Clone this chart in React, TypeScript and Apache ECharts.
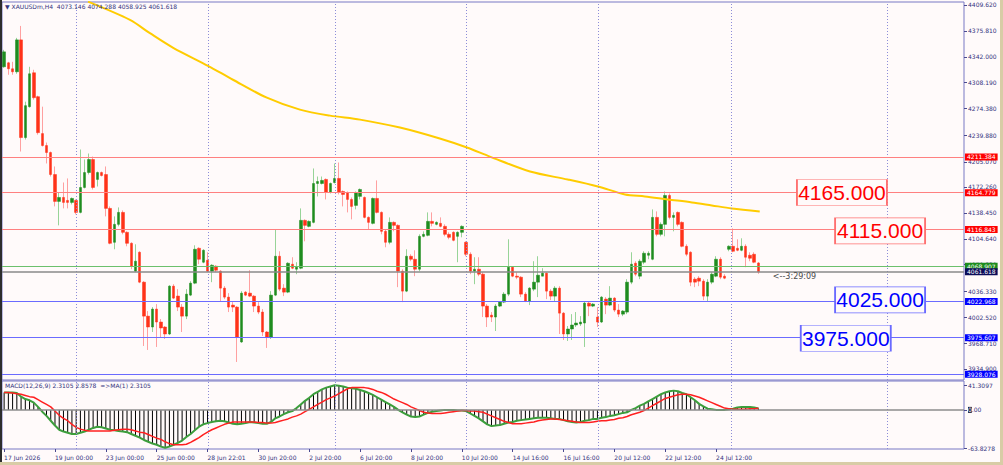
import React, { useEffect, useRef } from "react";
import * as echarts from "echarts";

// ---------- data ----------
const opens = [4329.0,4334.2,4326.4,4322.5,4364.1,4236.7,4277.0,4321.2,4290.0,4241.9,
4226.3,4217.2,4188.5,4153.4,4158.6,4154.7,4152.1,4154.7,4139.1,4171.6,
4191.1,4208.1,4182.1,4191.1,4188.5,4144.3,4100.1,4123.5,4139.1,4113.1,
4098.8,4062.4,4087.1,4048.1,4003.8,3989.6,4013.0,3996.1,3989.6,3980.5,
4042.9,4030.0,4015.6,4003.8,4031.2,4046.8,4092.3,4074.1,4076.7,4062.4,
4068.9,4062.4,4040.3,4028.6,4018.2,4015.6,3970.1,4035.1,4033.8,4029.9,
4016.9,4009.1,3983.1,3976.6,4031.2,4081.9,4040.3,4035.1,4071.5,4065.0,
4066.3,4128.7,4120.9,4126.1,4176.8,4176.8,4182.1,4165.1,4178.1,4183.4,
4166.4,4165.1,4156.0,4148.2,4160.0,4158.6,4132.6,4124.8,4157.3,4139.1,
4114.4,4100.1,4126.1,4122.2,4062.4,4036.4,4081.9,4078.0,4065.0,4107.9,
4109.2,4127.4,4123.5,4124.8,4120.9,4110.5,4113.1,4107.9,4113.1,4100.1,
4084.5,4062.4,4065.0,4058.5,4016.9,4005.1,4002.6,4016.9,4022.1,4032.5,
4067.6,4055.9,4054.6,4032.5,4023.4,4039.0,4048.1,4055.9,4059.8,4036.4,
4029.9,4040.3,4007.7,3980.5,3987.0,3992.2,3993.5,3994.8,4020.8,4016.9,
4002.6,3996.1,4026.0,4018.2,4027.3,4011.7,4006.4,4009.1,4048.1,4072.8,
4055.9,4074.1,4083.2,4078.0,4132.6,4110.5,4123.5,4161.2,4132.6,4139.1,
4126.1,4094.9,4087.1,4052.0,4053.3,4049.4,4029.9,4048.1,4055.9,4078.0,
4055.9,4091.0,4094.9,4092.3,4089.7,4094.9,4083.2,4084.5,4073.146];

const highs = [4351.1,4335.5,4335.5,4366.7,4382.3,4283.5,4329.0,4325.1,4291.3,4277.0,
4230.2,4218.5,4199.0,4165.1,4178.1,4183.4,4158.6,4156.0,4221.1,4208.1,
4215.9,4211.9,4192.4,4192.4,4199.0,4146.9,4133.9,4145.6,4141.7,4114.4,
4100.1,4097.5,4088.4,4049.4,4010.4,4015.6,4019.5,4000.0,3990.9,4044.2,
4045.5,4039.0,4019.5,4039.0,4049.4,4096.2,4093.6,4091.0,4087.1,4071.5,
4070.2,4063.7,4042.9,4033.8,4022.1,4016.9,4036.4,4036.4,4063.7,4031.2,
4022.1,4013.0,3984.4,4036.4,4117.0,4088.4,4045.5,4074.1,4080.6,4074.1,
4144.3,4130.0,4128.7,4196.4,4185.9,4185.9,4183.4,4178.1,4202.9,4204.2,
4167.7,4166.4,4158.6,4166.4,4170.3,4159.9,4133.9,4158.6,4180.8,4140.4,
4117.0,4132.6,4127.4,4123.5,4065.0,4091.0,4084.5,4089.7,4110.5,4114.4,
4139.1,4139.1,4127.4,4132.6,4123.5,4113.1,4114.4,4114.4,4122.2,4101.4,
4087.1,4080.6,4080.6,4061.1,4019.5,4009.1,4019.5,4023.4,4035.1,4104.0,
4068.9,4061.1,4055.9,4035.1,4041.6,4075.4,4081.9,4066.3,4061.1,4039.0,
4042.9,4042.9,4009.1,3990.9,4006.4,4009.1,4003.8,4023.4,4023.4,4020.8,
4015.6,4029.9,4028.6,4042.9,4028.6,4019.5,4011.7,4052.0,4087.1,4075.4,
4078.0,4088.4,4088.4,4143.0,4140.4,4126.1,4166.4,4163.8,4139.1,4140.4,
4127.4,4097.5,4088.4,4054.6,4055.9,4052.0,4052.0,4061.1,4081.9,4080.6,
4058.5,4096.2,4118.3,4104.0,4105.3,4097.5,4087.1,4087.1,4074.288];

const lows = [4327.7,4318.6,4318.6,4319.9,4218.5,4234.1,4275.7,4286.1,4240.5,4225.0,
4202.9,4185.9,4146.9,4122.2,4144.3,4144.3,4149.5,4136.5,4137.8,4170.3,
4188.5,4169.0,4172.9,4185.9,4133.9,4097.5,4091.0,4120.9,4110.5,4094.9,
4065.0,4061.1,4046.8,3964.9,3959.7,3983.1,3963.6,3975.3,3974.0,3979.2,
4026.0,4010.4,3983.1,3999.9,4029.9,4045.5,4071.5,4072.8,4061.1,4048.1,
4061.1,4023.4,4026.0,4009.1,4009.1,3944.0,3968.8,4029.9,4028.6,4009.1,
4006.4,3977.9,3962.3,3974.0,4029.9,4036.4,4029.9,4033.8,4065.0,4058.5,
4065.0,4101.4,4119.6,4124.8,4159.9,4175.5,4156.0,4163.8,4176.8,4162.5,
4146.9,4139.1,4130.0,4143.0,4156.0,4131.3,4117.0,4123.5,4137.8,4110.5,
4093.6,4097.5,4114.4,4041.6,4022.1,4035.1,4075.4,4055.9,4062.4,4106.6,
4107.9,4120.9,4122.2,4119.6,4107.9,4104.0,4101.4,4074.1,4106.6,4081.9,
4058.5,4045.5,4055.9,4002.6,3989.6,3996.1,3984.4,4015.6,4020.8,4029.9,
4054.6,4052.0,4028.6,4022.1,4018.2,4036.4,4028.6,4055.9,4026.0,4024.7,
4023.4,3980.5,3972.7,3971.4,3972.7,3989.6,3990.9,3963.6,4003.8,4015.6,
3989.6,3994.8,4006.4,4016.9,4009.1,4002.6,4003.8,4006.4,4045.5,4055.9,
4052.0,4071.5,4078.0,4076.7,4107.9,4107.9,4107.9,4130.0,4114.4,4120.9,
4093.6,4081.9,4042.9,4041.6,4042.9,4024.7,4023.4,4045.5,4054.6,4052.0,
4052.0,4088.4,4087.1,4088.4,4088.4,4067.6,4075.4,4072.8,4058.925];

const closes = [4348.5,4326.4,4322.5,4364.1,4236.7,4278.3,4319.9,4288.7,4243.1,4226.3,
4217.2,4188.5,4153.4,4158.6,4152.1,4152.1,4157.3,4139.1,4171.6,4191.1,
4208.1,4171.6,4191.1,4187.2,4144.3,4098.8,4123.5,4139.1,4113.1,4098.8,
4068.9,4075.4,4048.1,4003.8,3989.6,4013.0,3996.1,3988.3,3980.5,4042.9,
4027.3,4015.6,4003.8,4032.5,4046.8,4091.0,4078.0,4089.7,4062.4,4070.2,
4063.7,4040.3,4028.6,4015.6,4015.6,3976.6,4033.8,4031.2,4029.9,4016.9,
4009.1,3983.1,3976.6,4031.2,4081.9,4039.0,4035.1,4072.8,4066.3,4067.6,
4128.7,4122.2,4127.4,4176.8,4179.4,4180.8,4165.1,4176.8,4183.4,4165.1,
4162.5,4156.0,4146.9,4165.1,4169.0,4132.6,4126.1,4157.3,4139.1,4114.4,
4100.1,4126.1,4122.2,4062.4,4036.4,4081.9,4078.0,4065.0,4107.9,4110.5,
4127.4,4124.8,4126.1,4120.9,4110.5,4106.6,4102.7,4113.1,4120.9,4084.5,
4062.4,4065.0,4058.5,4016.9,4002.6,4002.6,4016.9,4022.1,4032.5,4067.6,
4055.9,4054.6,4032.5,4023.4,4040.3,4048.1,4057.2,4059.8,4036.4,4029.9,
4040.3,4007.7,3980.5,3987.0,3992.2,3994.8,3996.1,4020.8,4016.9,4019.5,
3996.1,4028.6,4018.2,4027.3,4011.7,4006.4,4010.4,4048.1,4071.5,4058.5,
4075.4,4085.8,4085.8,4132.6,4110.5,4123.5,4161.2,4132.6,4135.2,4123.5,
4094.9,4084.5,4048.1,4048.1,4049.4,4029.9,4048.1,4058.5,4078.0,4054.6,
4053.3,4094.9,4088.4,4089.7,4094.9,4080.6,4079.3,4074.1,4061.618];

const macdMain = [29,29,29,28,22,18,16,12,5,-3,
-10,-18,-26,-33,-36,-38,-40,-40,-38,-36,
-33,-30,-28,-29,-31,-33,-34,-35,-36,-37,
-40,-43,-46,-50,-53,-56,-58,-61,-63,-61,
-58,-55,-51,-45,-40,-34,-28,-24,-22,-20,
-19,-18,-19,-21,-23,-24,-23,-22,-20,-21,
-22,-23,-23,-20,-14,-11,-7,-4,-2,3,
9,15,20,26,30,34,37,39,41,40,
39,37,36,35,33,31,28,25,21,17,
13,9,5,0,-4,-8,-11,-12,-11,-8,
-5,-3,-2,-1,0,0,0,-1,-1,-2,
-6,-10,-14,-19,-24,-27,-26,-25,-23,-21,
-20,-18,-17,-16,-15,-14,-13,-13,-13,-14,
-15,-15,-17,-19,-20,-21,-20,-18,-17,-15,
-15,-13,-12,-10,-9,-7,-5,-4,0,3,
7,10,14,18,22,26,29,31,32,31,
28,26,21,16,10,6,2,1,0,0,
0,1,2,4,5,5,5,4,2.3105];

const macdSignal = [29,29,28,27,26,24,22,21,17,13,
9,5,-2,-9,-14,-18,-24,-29,-32,-34,
-35,-35,-35,-35,-35,-35,-34,-33,-32,-32,
-33,-35,-37,-38,-41,-44,-47,-49,-53,-56,
-58,-58,-58,-57,-54,-50,-46,-41,-37,-33,
-30,-27,-24,-22,-20,-20,-20,-20,-20,-20,
-21,-21,-22,-22,-21,-19,-17,-15,-12,-10,
-7,-3,1,5,9,13,17,20,23,27,
31,35,37,37,37,37,36,34,31,29,
26,22,18,15,12,9,5,2,-1,-4,
-5,-6,-6,-6,-5,-4,-3,-2,-1,-1,
-2,-2,-3,-4,-7,-10,-13,-16,-19,-21,
-23,-23,-23,-22,-21,-20,-18,-17,-16,-15,
-15,-16,-17,-18,-19,-20,-21,-21,-21,-20,
-19,-18,-18,-17,-16,-14,-13,-11,-8,-6,
-4,-1,3,7,11,15,19,21,23,25,
26,26,25,23,21,18,15,12,9,6,
3,2,1,1,1,1,2,2,2.8578];

// moving average read at a few bar positions
const maBars = [19.8,29.7,34.4,39.9,48.1,54.0,62.0,69.8,76.9,84.0,93.4,102.8,109.2,114.6,124.1,133.0,140.1,146.5,151.2,156.6,162.3,167.0,171.7,178.3];
const maValues = [4413.9,4390.1,4372.8,4353.7,4330.3,4312.1,4288.7,4273.1,4265.3,4260.1,4249.7,4235.4,4223.7,4211.9,4192.4,4182.0,4172.9,4162.5,4159.9,4156.0,4152.1,4148.2,4144.3,4140.4];

const priceTicks = [4409.62,4375.81,4342.0,4308.19,4274.38,4239.88,4205.07,4172.26,4138.45,4104.64,4070.83,4036.33,4002.52,3968.71,3934.9];
const macdTicks = [41.3097, 0, -63.8278];
const timeLabels = ["17 Jun 2026","19 Jun 00:00","23 Jun 00:00","25 Jun 00:00","28 Jun 22:01","30 Jun 20:00","2 Jul 20:00","6 Jul 20:00","8 Jul 20:00","10 Jul 20:00","14 Jul 16:00","16 Jul 16:00","20 Jul 12:00","22 Jul 12:00","24 Jul 12:00"];

const resistanceLevels = [4211.384, 4164.779, 4116.843];
const askLevel = 4068.907;
const bidLevel = 4061.618;
const supportLevels = [4022.968, 3975.607, 3928.076];

// text objects: label, price, bar position (time)
const targetLabels = ["4165.000", "4115.000", "4025.000", "3975.000"];
const targetPrices = [4165, 4115, 4025, 3975];
const targetBars = [197.7, 206.7, 206.7, 198.6];
const targetIsResistance = [true, true, false, false];

const timerText = "<--3:29:09";
const timerBar = 181.4;
const timerPrice = 4054.9;

const gridBars = [17, 48.1, 78.1, 109, 140.3, 171.5, 208.3];

const N_SLOTS = 227;
const LABEL_STEP = 12;
const categories = Array.from({ length: N_SLOTS }, (_, i) => String(i));
const isTimeTick = (i: number) => i % LABEL_STEP === 0 && i / LABEL_STEP < timeLabels.length;

const FONT = "DejaVu Sans";
const TXT = "#34347e";
const BG = "#FFFAFA";

function levelLine(v: number, line: string, box: string, width = 1) {
  return {
    yAxis: v,
    lineStyle: { color: line, width, type: "solid" },
    label: {
      show: true,
      position: "end",
      formatter: v.toFixed(3),
      color: "#ffffff",
      backgroundColor: box,
      fontFamily: FONT,
      fontSize: 6,
      lineHeight: 7,
      padding: [0, 2, 0, 2],
      distance: 1,
    },
  };
}

function buildOption(): any {
  const wickData = opens.map((o, i) => [o, closes[i], lows[i], highs[i]]);
  const bodyData = opens.map((o, i) => [o, closes[i], Math.min(o, closes[i]), Math.max(o, closes[i])]);
  const maData = maBars.map((b, i) => [b, maValues[i]]);

  const levels = [
    ...resistanceLevels.map((v) => levelLine(v, "#ff8080", "#ff0000")),
    levelLine(askLevel, "#6cc06c", "#1d8c1d"),
    levelLine(bidLevel, "#8a8a8a", "#0c0c58", 1.5),
    ...supportLevels.map((v) => levelLine(v, "#6b6bff", "#0000ff")),
  ];

  const targets = targetLabels.map((t, i) => ({
    coord: [targetBars[i], targetPrices[i]],
    symbol: "rect",
    symbolSize: [90, 26],
    itemStyle: {
      color: BG,
      borderColor: targetIsResistance[i] ? "#ff7070" : "#6a6aff",
      borderWidth: 1,
    },
    label: {
      show: true,
      position: "inside",
      formatter: t,
      color: targetIsResistance[i] ? "#ff0000" : "#0000ff",
      fontFamily: "Liberation Sans",
      fontSize: 21,
    },
  }));

  const vLines = (xIdx: number, yIdx: number) => ({
    type: "line",
    xAxisIndex: xIdx,
    yAxisIndex: yIdx,
    data: [],
    z: 1,
    silent: true,
    markLine: {
      silent: true,
      symbol: ["none", "none"],
      label: { show: false },
      lineStyle: { color: "#8c8cd8", width: 1, type: [1, 2] },
      data: gridBars.map((b) => ({ xAxis: b })),
    },
  });

  return {
    animation: false,
    backgroundColor: BG,
    textStyle: { fontFamily: FONT },
    title: [
      {
        text: "▼ XAUUSDm,H4  4073.146 4074.288 4058.925 4061.618",
        left: 5,
        top: 3,
        padding: 0,
        textStyle: { fontFamily: FONT, fontSize: 6, color: TXT, fontWeight: "normal" },
      },
      {
        text: "MACD(12,26,9) 2.3105 2.8578  =>MA(1) 2.3105",
        left: 5,
        top: 382,
        padding: 0,
        textStyle: { fontFamily: FONT, fontSize: 6, color: TXT, fontWeight: "normal" },
      },
    ],
    grid: [
      { left: 2, width: 962, top: 2, height: 378, show: true, borderColor: "#7878c4", borderWidth: 1, backgroundColor: "transparent" },
      { left: 2, width: 962, top: 381, height: 68, show: true, borderColor: "#7878c4", borderWidth: 1, backgroundColor: "transparent" },
    ],
    xAxis: [
      { type: "category", gridIndex: 0, data: categories, show: false, boundaryGap: true, axisLine: { onZero: false } },
      { type: "value", gridIndex: 0, min: -0.5, max: N_SLOTS - 0.5, show: false, axisLine: { show: false, onZero: false }, axisTick: { show: false }, axisLabel: { show: false } },
      {
        type: "category",
        gridIndex: 1,
        data: categories,
        boundaryGap: true,
        axisLine: { show: false, onZero: false },
        splitLine: { show: false },
        axisTick: {
          show: true,
          alignWithLabel: true,
          interval: (i: number) => isTimeTick(i),
          length: 3,
          lineStyle: { color: "#4a4a90" },
        },
        axisLabel: {
          interval: (i: number) => isTimeTick(i),
          formatter: (v: string) => {
            const i = Number(v);
            return isTimeTick(i) ? timeLabels[i / LABEL_STEP] : "";
          },
          align: "left",
          fontFamily: FONT,
          fontSize: 6,
          color: TXT,
          margin: 5,
        },
      },
      { type: "value", gridIndex: 1, min: -0.5, max: N_SLOTS - 0.5, show: false, axisLine: { show: false, onZero: false }, axisTick: { show: false }, axisLabel: { show: false } },
    ],
    yAxis: [
      {
        type: "value",
        gridIndex: 0,
        position: "right",
        min: 3920.5,
        max: 4413.5,
        axisLine: { show: false, onZero: false },
        splitLine: { show: false },
        axisTick: { show: true, customValues: priceTicks, length: 3, lineStyle: { color: "#4a4a90" } },
        axisLabel: {
          customValues: priceTicks,
          formatter: (v: number) => v.toFixed(3),
          fontFamily: FONT,
          fontSize: 6,
          color: TXT,
          margin: 4,
        },
      },
      {
        type: "value",
        gridIndex: 1,
        position: "right",
        min: -65,
        max: 48,
        axisLine: { show: false, onZero: false },
        splitLine: { show: false },
        axisTick: { show: true, customValues: macdTicks, length: 3, lineStyle: { color: "#4a4a90" } },
        axisLabel: {
          customValues: macdTicks,
          formatter: (v: number) => (v === 0 ? "{z|0}.00" : v.toFixed(4)),
          rich: { z: { backgroundColor: "#1c1c3c", color: "#ffffff", fontSize: 6, fontFamily: FONT, padding: [0, 0, 0, 0] } },
          fontFamily: FONT,
          fontSize: 6,
          color: TXT,
          margin: 4,
        },
      },
    ],
    series: [
      vLines(1, 0),
      vLines(3, 1),
      {
        name: "wicks",
        type: "candlestick",
        xAxisIndex: 0,
        yAxisIndex: 0,
        data: wickData,
        barWidth: 1,
        silent: true,
        itemStyle: {
          color: "#98d498",
          color0: "#ffa0a0",
          borderColor: "#98d498",
          borderColor0: "#ffa0a0",
          borderColorDoji: "#ffa0a0",
          borderWidth: 1,
        },
      },
      {
        name: "bodies",
        type: "candlestick",
        xAxisIndex: 0,
        yAxisIndex: 0,
        data: bodyData,
        barWidth: 3,
        silent: true,
        itemStyle: {
          color: "#1f8c1f",
          color0: "#ff3219",
          borderColor: "#1f8c1f",
          borderColor0: "#ff3219",
          borderColorDoji: "#ff3219",
          borderWidth: 0.5,
        },
        markLine: {
          silent: true,
          symbol: ["none", "none"],
          data: levels,
        },
      },
      {
        name: "MA",
        type: "line",
        xAxisIndex: 1,
        yAxisIndex: 0,
        data: maData,
        smooth: 0.3,
        showSymbol: false,
        clip: true,
        silent: true,
        lineStyle: { color: "#ffcc00", width: 2 },
        markPoint: {
          silent: true,
          data: [
            ...targets,
            {
              coord: [timerBar, timerPrice],
              symbol: "circle",
              symbolSize: 0,
              label: {
                show: true,
                position: "right",
                distance: 0,
                formatter: timerText,
                color: "#4a4a4a",
                fontFamily: FONT,
                fontSize: 8,
              },
            },
          ],
        },
      },
      {
        name: "MACD hist",
        type: "bar",
        xAxisIndex: 2,
        yAxisIndex: 1,
        data: macdMain,
        barWidth: 1,
        silent: true,
        itemStyle: { color: "#000000" },
      },
      {
        name: "MACD",
        type: "line",
        xAxisIndex: 2,
        yAxisIndex: 1,
        data: macdMain,
        showSymbol: false,
        silent: true,
        lineStyle: { color: "#3c9e3c", width: 2 },
        markLine: {
          silent: true,
          symbol: ["none", "none"],
          label: { show: false },
          lineStyle: { color: "#8c8c8c", width: 1.5, type: "solid" },
          data: [{ yAxis: 0 }],
        },
      },
      {
        name: "Signal",
        type: "line",
        xAxisIndex: 2,
        yAxisIndex: 1,
        data: macdSignal,
        showSymbol: false,
        silent: true,
        lineStyle: { color: "#ff2020", width: 1.5 },
      },
    ],
  };
}

export default function App() {
  const ref = useRef<HTMLDivElement>(null);
  useEffect(() => {
    if (!ref.current) return;
    const chart = echarts.init(ref.current, null, { renderer: "svg" });
    chart.setOption(buildOption());
    return () => chart.dispose();
  }, []);
  return (
    <div style={{ position: "absolute", left: 0, top: 0, width: 1003, height: 465, background: BG, overflow: "hidden" }}>
      <div ref={ref} style={{ position: "absolute", left: 0, top: 0, width: 1003, height: 465 }} />
      <div style={{ position: "absolute", left: 0, top: 0, width: 2, height: 465, background: "#2d2d2d" }} />
      <div style={{ position: "absolute", left: 1000, top: 0, width: 3, height: 465, background: "#d8cca6" }} />
      <div style={{ position: "absolute", left: 0, top: 462, width: 1003, height: 3, background: "#d8cca6" }} />
    </div>
  );
}
